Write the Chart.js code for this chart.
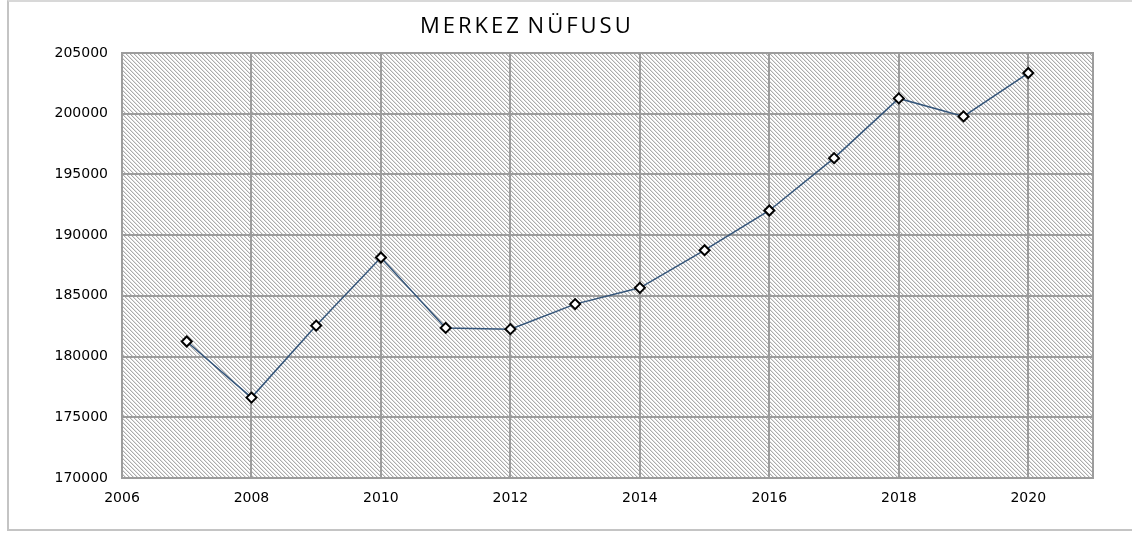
<!DOCTYPE html>
<html>
<head>
<meta charset="utf-8">
<script src="https://cdn.jsdelivr.net/npm/chart.js@4"></script>
<style>
  body { margin: 0; background: #fff; }
  #frame {
    position: absolute; left: 7px; top: 0; width: 1140px; height: 527px;
    border-left: 2px solid #c4c4c4; border-top: 2px solid #d8d8d8; border-bottom: 2px solid #c4c4c4;
  }
  #title {
    position: absolute; left: 420px; top: 13px;
    font: 22px "Open Sans", sans-serif; line-height: 22px; letter-spacing: 3px; word-spacing: -3px; color: #000;
    white-space: nowrap;
  }
  canvas { position: absolute; left: 0; top: 0; }
</style>
</head>
<body>
<div id="frame"></div>
<canvas id="nufusChart" width="1132" height="533"></canvas>
<div id="title">MERKEZ NÜFUSU</div>
<script>
const years = [2007, 2008, 2009, 2010, 2011, 2012, 2013, 2014, 2015, 2016, 2017, 2018, 2019, 2020];
const population = [181240, 176620, 182550, 188160, 182360, 182260, 184320, 185660, 188760, 192030, 196340, 201260, 199780, 203350];
const xTicks = [2006, 2008, 2010, 2012, 2014, 2016, 2018, 2020];
const yTicks = [170000, 175000, 180000, 185000, 190000, 195000, 200000, 205000];

const gridColor = '#9c9c9c';
const tickFont = { family: 'DejaVu Sans', size: 14 };

// excel-like "wide downward diagonal" fill, drawn pixel by pixel
function makeHatch(ctx) {
  const s = 4;
  const c = document.createElement('canvas');
  c.width = s; c.height = s;
  const p = c.getContext('2d');
  p.fillStyle = '#fff';
  p.fillRect(0, 0, s, s);
  for (let i = 0; i < s; i++) {
    p.fillStyle = '#ababab';
    p.fillRect(i, i, 1, 1);
    p.fillStyle = '#e2e2e2';
    p.fillRect((i + 1) % s, i, 1, 1);
  }
  return ctx.createPattern(c, 'repeat');
}

const plotBg = {
  id: 'plotBg',
  beforeDraw(chart) {
    const { ctx, chartArea: a } = chart;
    ctx.save();
    ctx.fillStyle = makeHatch(ctx);
    ctx.fillRect(a.left, a.top, a.right - a.left, a.bottom - a.top);
    ctx.restore();
  },
  beforeDatasetsDraw(chart) {
    const { ctx, chartArea: a } = chart;
    ctx.save();
    ctx.strokeStyle = gridColor;
    ctx.lineWidth = 2;
    ctx.strokeRect(a.left, a.top, a.right - a.left, a.bottom - a.top);
    ctx.restore();
  }
};

const ctx = document.getElementById('nufusChart').getContext('2d');
new Chart(ctx, {
  type: 'line',
  data: {
    datasets: [{
      label: 'Merkez Nüfusu',
      data: years.map((y, i) => ({ x: y, y: population[i] })),
      borderColor: '#34557a',
      borderWidth: 1.5,
      tension: 0,
      pointStyle: 'rectRot',
      pointRadius: 5,
      pointBackgroundColor: '#fff',
      pointBorderColor: '#000',
      pointBorderWidth: 2
    }]
  },
  options: {
    responsive: false,
    animation: false,
    layout: { padding: { top: 53, right: 39, left: 0, bottom: 0 } },
    plugins: {
      legend: { display: false },
      tooltip: { enabled: false },
      title: { display: false }
    },
    scales: {
      x: {
        type: 'linear',
        min: 2006,
        max: 2021,
        afterBuildTicks: s => { s.ticks = xTicks.map(v => ({ value: v })); },
        afterFit: s => { s.height = 55; },
        grid: { color: gridColor, lineWidth: 2, drawTicks: false },
        border: { color: gridColor, width: 2 },
        ticks: { font: tickFont, color: '#000', padding: 12, maxRotation: 0, autoSkip: false, callback: v => String(v) }
      },
      y: {
        min: 170000,
        max: 205000,
        afterBuildTicks: s => { s.ticks = yTicks.map(v => ({ value: v })); },
        afterFit: s => { s.width = 122; },
        grid: { color: gridColor, lineWidth: 2, drawTicks: false },
        border: { color: gridColor, width: 2 },
        ticks: { font: tickFont, color: '#000', padding: 14, callback: v => String(v) }
      }
    }
  },
  plugins: [plotBg]
});
</script>
</body>
</html>
